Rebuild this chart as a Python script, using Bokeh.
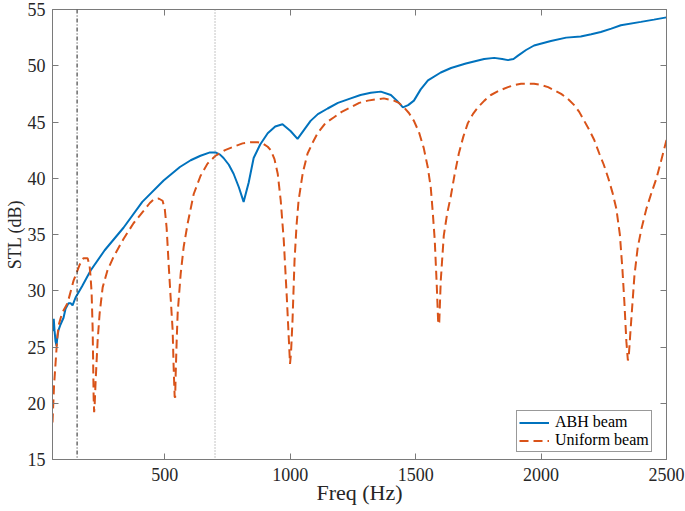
from bokeh.plotting import figure
from bokeh.models import (LinearAxis, FixedTicker, Span, Range1d, Legend, LegendItem,
                          CustomJSTickFormatter)
from bokeh.embed import file_html
from bokeh.resources import INLINE

# ---------------- data ----------------
abh_freq = [52, 55, 57, 60, 64, 68, 72, 76, 84, 96, 104, 116, 124, 132, 144, 170, 204, 260, 335, 410,
            495, 560, 603, 642, 680, 702, 720, 734, 755, 774, 795, 814, 834, 854, 880, 910, 940, 969,
            1001, 1029, 1055, 1081, 1110, 1149, 1190, 1241, 1280, 1321, 1361, 1401, 1425, 1449, 1470,
            1493, 1520, 1549, 1600, 1641, 1700, 1773, 1813, 1845, 1868, 1890, 1908, 1940, 1972, 2039,
            2100, 2158, 2200, 2238, 2280, 2318, 2398, 2450, 2500]
abh_stl = [26.4, 27.0, 27.5, 26.5, 25.5, 25.1, 26.0, 26.5, 27.0, 27.6, 28.4, 28.9, 28.9, 28.7, 29.4,
           30.4, 31.8, 33.6, 35.6, 37.9, 39.8, 41.0, 41.6, 42.0, 42.3, 42.3, 42.1, 41.8, 41.2, 40.4,
           39.2, 37.9, 39.6, 41.8, 43.0, 44.0, 44.6, 44.8, 44.2, 43.5, 44.3, 45.1, 45.7, 46.2, 46.7,
           47.1, 47.4, 47.6, 47.7, 47.4, 46.9, 46.3, 46.5, 46.9, 47.9, 48.7, 49.4, 49.8, 50.2, 50.6,
           50.7, 50.6, 50.5, 50.6, 50.9, 51.4, 51.8, 52.2, 52.5, 52.6, 52.8, 53.0, 53.3, 53.6, 53.9,
           54.1, 54.3]

uni_freq = [52, 58, 64, 70, 76, 90, 112, 136, 160, 176, 192, 200, 204, 208, 212, 214, 216, 218, 220,
            224, 232, 240, 252, 271, 295, 335, 375, 415, 440, 455, 475, 491, 500, 507, 515, 523, 531,
            535, 539, 541, 543, 547, 551, 563, 575, 591, 615, 642, 670, 702, 740, 774, 810, 842, 870,
            890, 910, 922, 937, 950, 962, 974, 986, 994, 999, 1003, 1009, 1017, 1025, 1033, 1050,
            1069, 1090, 1109, 1140, 1173, 1205, 1241, 1275, 1309, 1340, 1373, 1393, 1413, 1433, 1453,
            1473, 1493, 1513, 1532, 1548, 1560, 1568, 1576, 1584, 1590, 1594, 1600, 1612, 1625, 1640,
            1655, 1672, 1690, 1708, 1728, 1748, 1774, 1800, 1834, 1868, 1895, 1920, 1946, 1972, 2000,
            2028, 2055, 2080, 2105, 2132, 2152, 2172, 2192, 2212, 2232, 2250, 2268, 2285, 2300, 2314,
            2324, 2332, 2340, 2346, 2350, 2356, 2364, 2372, 2385, 2400, 2420, 2440, 2460, 2478, 2500]
uni_stl = [18.3, 21.5, 23.5, 25.5, 26.9, 28.0, 28.9, 30.9, 32.3, 32.9, 32.9, 32.2, 31.2, 29.8, 26.7,
           23.8, 20.5, 19.2, 19.8, 22.0, 25.6, 28.0, 30.3, 31.8, 33.0, 34.6, 36.0, 37.1, 37.8, 38.1,
           38.2, 38.0, 37.2, 35.6, 32.4, 29.4, 26.5, 23.2, 20.6, 20.5, 22.5, 25.5, 28.0, 31.5, 33.9,
           36.0, 38.6, 40.2, 41.3, 42.0, 42.5, 42.8, 43.1, 43.2, 43.2, 43.1, 42.8, 42.5, 41.7, 40.4,
           38.0, 34.5, 29.5, 25.8, 23.5, 24.5, 27.4, 32.7, 35.8, 38.0, 40.5, 42.2, 43.2, 44.0, 44.9,
           45.4, 45.9, 46.3, 46.7, 46.9, 47.0, 47.1, 47.0, 46.9, 46.7, 46.3, 45.8, 45.1, 44.1, 42.7,
           41.0, 39.2, 37.0, 34.5, 30.5, 27.0, 27.2, 30.9, 34.9, 36.8, 38.4, 40.3, 42.2, 43.7, 44.9,
           45.7, 46.3, 46.9, 47.4, 47.8, 48.1, 48.3, 48.4, 48.4, 48.4, 48.3, 48.1, 47.8, 47.5, 47.1,
           46.5, 45.9, 45.1, 44.3, 43.4, 42.2, 41.2, 40.0, 38.7, 37.3, 35.0, 32.0, 29.0, 25.5, 23.8,
           24.3, 26.3, 28.8, 31.3, 33.8, 35.5, 37.3, 38.7, 40.0, 41.5, 43.4]

x_ticks = [500, 1000, 1500, 2000, 2500]
y_ticks = [15, 20, 25, 30, 35, 40, 45, 50, 55]
marker_freqs = [150, 700]
series_labels = ["ABH beam", "Uniform beam"]
x_label = "Freq (Hz)"
y_label = "STL (dB)"

FONT = "Liberation Serif"
AX_COLOR = "#7a7a7a"
TXT_COLOR = "#262626"

p = figure(width=685, height=510, output_backend="svg", toolbar_location=None,
           x_range=Range1d(52, 2500), y_range=Range1d(15, 55),
           min_border_left=52, min_border_right=19, min_border_top=9, min_border_bottom=51)
p.grid.visible = False
p.outline_line_color = AX_COLOR
p.outline_line_width = 1
p.background_fill_color = "white"
p.border_fill_color = "white"

def style_axis(ax, labels=True):
    ax.axis_line_color = AX_COLOR
    ax.major_tick_line_color = AX_COLOR
    ax.major_tick_in = 6
    ax.major_tick_out = 0
    ax.minor_tick_line_color = None
    ax.major_label_text_font = FONT
    ax.major_label_text_color = TXT_COLOR
    ax.major_label_text_font_size = "18px"
    if not labels:
        ax.formatter = CustomJSTickFormatter(code="return ''")
        ax.major_label_standoff = 0

p.xaxis.ticker = FixedTicker(ticks=x_ticks)
p.yaxis.ticker = FixedTicker(ticks=y_ticks)
style_axis(p.xaxis[0])
style_axis(p.yaxis[0])
p.xaxis.major_label_standoff = 8
p.yaxis.major_label_standoff = 7
p.xaxis.axis_label = x_label
p.yaxis.axis_label = y_label
for ax in (p.xaxis[0], p.yaxis[0]):
    ax.axis_label_text_font = FONT
    ax.axis_label_text_font_style = "normal"
    ax.axis_label_text_color = TXT_COLOR
p.xaxis.axis_label_text_font_size = "22px"
p.yaxis.axis_label_text_font_size = "18px"
p.xaxis.axis_label_standoff = -4
p.yaxis.axis_label_standoff = 0

top = LinearAxis(ticker=FixedTicker(ticks=x_ticks))
style_axis(top, labels=False)
p.add_layout(top, "above")
right = LinearAxis(ticker=FixedTicker(ticks=y_ticks))
style_axis(right, labels=False)
p.add_layout(right, "right")

p.add_layout(Span(location=marker_freqs[0], dimension="height", line_color="#222222",
                  line_width=1, line_dash="4 2 1 2"))
p.add_layout(Span(location=marker_freqs[1], dimension="height", line_color="#8a8a8a",
                  line_width=1, line_dash="1 2"))

r1 = p.line(abh_freq, abh_stl, line_color="#0072BD", line_width=2)
r2 = p.line(uni_freq, uni_stl, line_color="#D95319", line_width=2, line_dash="9 5")

legend = Legend(items=[LegendItem(label=series_labels[0], renderers=[r1]),
                       LegendItem(label=series_labels[1], renderers=[r2])],
                location=(464, 7))
legend.label_text_font = FONT
legend.label_text_font_size = "16px"
legend.label_text_color = "black"
legend.border_line_color = "#333333"
legend.border_line_width = 1
legend.background_fill_color = "white"
legend.background_fill_alpha = 1
legend.glyph_width = 30
legend.glyph_height = 17
legend.label_height = 17
legend.label_standoff = 6
legend.padding = 2
legend.spacing = 0
legend.margin = 0
p.add_layout(legend, "center")

open("out.html", "w").write(file_html(p, INLINE))
